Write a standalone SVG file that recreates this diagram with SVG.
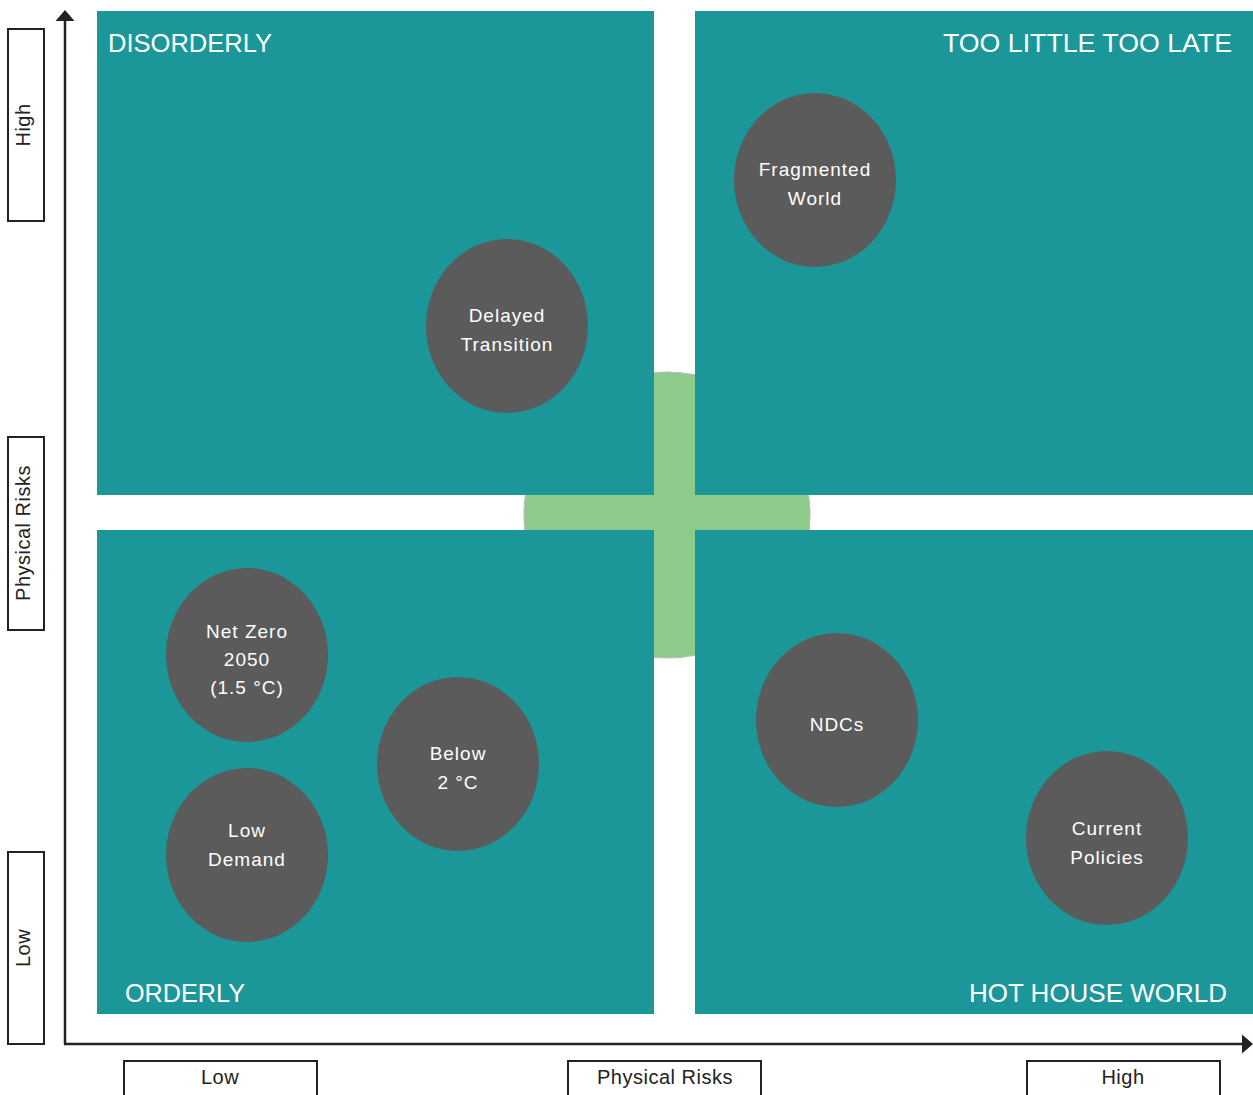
<svg xmlns="http://www.w3.org/2000/svg" width="1253" height="1095" viewBox="0 0 1253 1095">
  <defs>
    <style>
      .quad { fill: #1C9799; }
      .qlabel { font-family: "Liberation Sans", Arial, sans-serif; font-size: 26px; fill: #FFFFFF; }
      .bubble { fill: #5B5B5B; }
      .btext { font-family: "Liberation Sans", Arial, sans-serif; font-size: 19px; fill: #FFFFFF; text-anchor: middle; letter-spacing: 1px; }
      .axis { stroke: #222222; stroke-width: 2.5; fill: none; }
      .head { fill: #222222; }
      .tag { fill: #FFFFFF; stroke: #222222; stroke-width: 2; }
      .ttext { font-family: "Liberation Sans", Arial, sans-serif; font-size: 20px; fill: #222222; text-anchor: middle; letter-spacing: 0.5px; }
    </style>
  </defs>

  <rect width="1253" height="1095" fill="#FFFFFF"/>

  <!-- centre disc behind the quadrants -->
  <ellipse cx="667" cy="515" rx="143" ry="143" fill="#8DCB8A" stroke="#BBBBBB" stroke-width="1.2"/>

  <!-- quadrants -->
  <g id="q-disorderly">
    <rect class="quad" x="97" y="11" width="557" height="484"/>
    <text class="qlabel" x="108" y="52" textLength="164" lengthAdjust="spacingAndGlyphs">DISORDERLY</text>
  </g>
  <g id="q-too-little">
    <rect class="quad" x="695" y="11" width="558" height="484"/>
    <text class="qlabel" x="943" y="52" textLength="289" lengthAdjust="spacingAndGlyphs">TOO LITTLE TOO LATE</text>
  </g>
  <g id="q-orderly">
    <rect class="quad" x="97" y="530" width="557" height="484"/>
    <text class="qlabel" x="125" y="1002" textLength="120" lengthAdjust="spacingAndGlyphs">ORDERLY</text>
  </g>
  <g id="q-hot-house">
    <rect class="quad" x="695" y="530" width="558" height="484"/>
    <text class="qlabel" x="969" y="1002" textLength="258" lengthAdjust="spacingAndGlyphs">HOT HOUSE WORLD</text>
  </g>

  <!-- scenarios -->
  <g id="delayed-transition">
    <ellipse class="bubble" cx="507" cy="326" rx="81" ry="87"/>
    <text class="btext" x="507" y="322">Delayed</text>
    <text class="btext" x="507" y="351">Transition</text>
  </g>
  <g id="fragmented-world">
    <ellipse class="bubble" cx="815" cy="180" rx="81" ry="87"/>
    <text class="btext" x="815" y="176">Fragmented</text>
    <text class="btext" x="815" y="205">World</text>
  </g>
  <g id="net-zero">
    <ellipse class="bubble" cx="247" cy="655" rx="81" ry="87"/>
    <text class="btext" x="247" y="638">Net Zero</text>
    <text class="btext" x="247" y="666">2050</text>
    <text class="btext" x="247" y="694">(1.5 °C)</text>
  </g>
  <g id="low-demand">
    <ellipse class="bubble" cx="247" cy="855" rx="81" ry="87"/>
    <text class="btext" x="247" y="837">Low</text>
    <text class="btext" x="247" y="866">Demand</text>
  </g>
  <g id="below-2c">
    <ellipse class="bubble" cx="458" cy="764" rx="81" ry="87"/>
    <text class="btext" x="458" y="760">Below</text>
    <text class="btext" x="458" y="789">2 °C</text>
  </g>
  <g id="ndcs">
    <ellipse class="bubble" cx="837" cy="720" rx="81" ry="87"/>
    <text class="btext" x="837" y="731">NDCs</text>
  </g>
  <g id="current-policies">
    <ellipse class="bubble" cx="1107" cy="838" rx="81" ry="87"/>
    <text class="btext" x="1107" y="835">Current</text>
    <text class="btext" x="1107" y="864">Policies</text>
  </g>

  <!-- axes -->
  <g id="connectors">
    <line class="axis" x1="65" y1="1044" x2="65" y2="18"/>
    <path class="head" d="M65,10 L55.5,21 L74.5,21 z"/>
    <line class="axis" x1="64" y1="1044" x2="1244" y2="1044"/>
    <path class="head" d="M1253,1044 L1242,1034.5 L1242,1053.5 z"/>
  </g>

  <!-- axis tags -->
  <g id="y-high">
    <rect class="tag" x="8" y="29" width="36" height="192"/>
    <text class="ttext" transform="translate(30 125) rotate(-90)">High</text>
  </g>
  <g id="y-title">
    <rect class="tag" x="8" y="437" width="36" height="193"/>
    <text class="ttext" transform="translate(30 533) rotate(-90)">Physical Risks</text>
  </g>
  <g id="y-low">
    <rect class="tag" x="8" y="852" width="36" height="192"/>
    <text class="ttext" transform="translate(30 948) rotate(-90)">Low</text>
  </g>
  <g id="x-low">
    <rect class="tag" x="124" y="1061" width="193" height="40"/>
    <text class="ttext" x="220" y="1084">Low</text>
  </g>
  <g id="x-title">
    <rect class="tag" x="568" y="1061" width="193" height="40"/>
    <text class="ttext" x="665" y="1084">Physical Risks</text>
  </g>
  <g id="x-high">
    <rect class="tag" x="1027" y="1061" width="193" height="40"/>
    <text class="ttext" x="1123" y="1084">High</text>
  </g>
</svg>
